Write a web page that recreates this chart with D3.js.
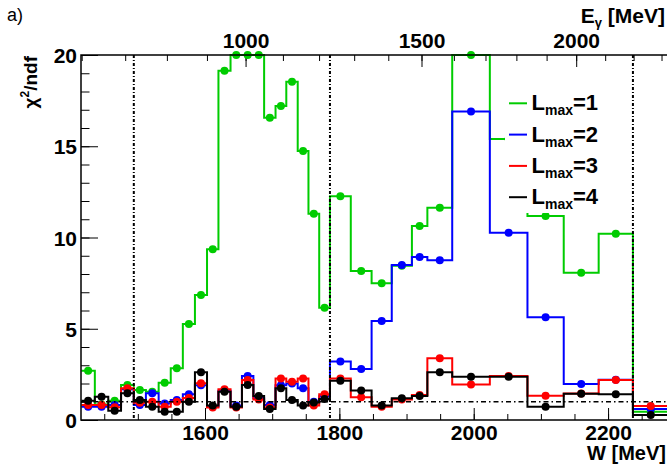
<!DOCTYPE html>
<html>
<head>
<meta charset="utf-8">
<script src="https://cdn.jsdelivr.net/npm/d3@7"></script>
<style>
  body { margin: 0; background: #fff; }
  svg { display: block; font-family: "Liberation Sans", Arial, Helvetica, sans-serif; }
</style>
</head>
<body>
<svg id="chart" width="667" height="471"></svg>
<script>
// bin edges in W [MeV] (33 bins)
const binEdges = [1416, 1436, 1456, 1475, 1494, 1512, 1531, 1549, 1567, 1585,
  1603, 1620, 1638, 1655, 1672, 1688, 1705, 1721, 1738, 1754, 1770, 1786,
  1817, 1848, 1878, 1908, 1931, 1968, 2024, 2080, 2134, 2186, 2237, 2290]

// chi2/ndf per bin for each fit
const lmax1 = [2.7, 0.85, 1.05, 1.92, 1.64, 1.55, 2.04, 2.83, 5.26, 6.85,
  9.35, 19.14, 20, 20, 20, 16.56, 17.2, 18.54, 14.74, 11.3, 6.15,
  12.26, 8.16, 7.49, 8.45, 10.63, 11.63, 20, 15.4, 11.18, 8.07, 10.21, 0.45]
const lmax2 = [0.73, 0.73, 0.82, 1.68, 0.82, 1.46, 0.91, 1.1, 1.41, 1.9,
  0.73, 1.6, 0.79, 2.41, 1.2, 0.82, 1.9, 2.0, 1.74, 1.0, 1.3,
  3.2, 2.8, 5.42, 8.49, 8.93, 8.75, 16.9, 10.26, 5.63, 1.97, 2.2, 0.6]
const lmax3 = [0.82, 0.82, 0.7, 1.74, 0.95, 1.0, 0.73, 1.0, 1.2, 2.01,
  0.68, 1.68, 0.68, 2.19, 1.13, 0.68, 2.28, 2.1, 2.28, 0.79, 1.41,
  2.28, 1.24, 0.73, 1.13, 1.37, 3.38, 1.95, 2.41, 1.33, 1.45, 2.19, 0.77]
const lmax4 = [1.06, 1.28, 0.51, 1.46, 1.1, 0.73, 0.45, 0.45, 1.0, 2.61,
  0.79, 1.55, 0.73, 1.92, 1.32, 0.6, 1.74, 1.1, 0.79, 0.96, 1.15,
  2.15, 1.61, 0.79, 1.19, 1.32, 2.61, 2.37, 2.37, 0.73, 1.44, 1.41, 0.27]

const legendLabels = ['1', '2', '3', '4']
const seriesColors = ['#00cc00', '#0000ff', '#ff0000', '#000000']

// axis ticks
const wTicks = [1600, 1800, 2000, 2200]
const yTicks = [0, 5, 10, 15, 20]
const egTicks = [1000, 1500, 2000]
// vertical marker lines (W) and reference level
const markerW = [1494, 1786, 2237]
const refLevel = 1

const mp = 938.27
const eToW = e => Math.sqrt(mp * mp + 2 * mp * e)

const svg = d3.select('#chart')
const x = d3.scaleLinear().domain([1415.4, 2290.7]).range([81, 669])
const y = d3.scaleLinear().domain([0, 20]).range([420, 55])

const fontAxis = g => g.selectAll('text')
  .attr('font-size', 21).attr('font-weight', 'bold').attr('fill', '#000')
  .attr('font-family', '"Liberation Sans", Arial, sans-serif')

// bottom axis
svg.append('g').attr('transform', 'translate(0,420)')
  .call(d3.axisBottom(x).tickValues(d3.range(1450, 2290, 50)).tickSize(-6).tickFormat(''))
  .call(g => g.select('.domain').remove())
svg.append('g').attr('transform', 'translate(0,420)')
  .call(d3.axisBottom(x).tickValues(wTicks).tickSize(-12).tickPadding(5).tickFormat(d3.format('d')))
  .call(g => g.select('.domain').remove())
  .call(fontAxis)

// left axis
svg.append('g').attr('transform', 'translate(81,0)')
  .call(d3.axisLeft(y).tickValues(d3.range(0, 21, 1)).tickSize(-8.5).tickFormat(''))
  .call(g => g.select('.domain').remove())
svg.append('g').attr('transform', 'translate(81,0)')
  .call(d3.axisLeft(y).tickValues(yTicks).tickSize(-17).tickPadding(4).tickFormat(d3.format('d')))
  .call(g => g.select('.domain').remove())
  .call(fontAxis)
  .call(g => g.selectAll('text').attr('dy', '0.36em'))

// top axis in photon energy
svg.append('g').attr('transform', 'translate(0,55)')
  .call(d3.axisTop(x).tickValues(d3.range(600, 2400, 100).map(eToW)).tickSize(-6).tickFormat(''))
  .call(g => g.select('.domain').remove())
svg.append('g').attr('transform', 'translate(0,55)')
  .call(d3.axisTop(x).tickValues(egTicks.map(eToW)).tickSize(-12).tickPadding(7)
    .tickFormat((d, i) => egTicks[i]))
  .call(g => g.select('.domain').remove())
  .call(fontAxis)

// histograms
const series = [lmax1, lmax2, lmax3, lmax4]
const line = d3.line().x(d => x(d[0])).y(d => y(d[1])).curve(d3.curveStepAfter)
series.forEach((vals, k) => {
  const pts = vals.map((v, i) => [binEdges[i], v])
  pts.push([binEdges[binEdges.length - 1], vals[vals.length - 1]])
  svg.append('path').attr('d', line(pts))
    .attr('fill', 'none').attr('stroke', seriesColors[k]).attr('stroke-width', 2)
  svg.append('g').selectAll('circle').data(vals).join('circle')
    .attr('cx', (v, i) => x((binEdges[i] + binEdges[i + 1]) / 2))
    .attr('cy', v => y(v))
    .attr('r', 4)
    .attr('fill', seriesColors[k])
})

// dashed markers
svg.append('g').selectAll('line').data(markerW).join('line')
  .attr('x1', d => x(d)).attr('x2', d => x(d))
  .attr('y1', y(20)).attr('y2', y(0))
  .attr('stroke', '#000').attr('stroke-width', 2).attr('stroke-dasharray', '3,2,1,2')
svg.append('line')
  .attr('x1', 81).attr('x2', 669).attr('y1', y(refLevel)).attr('y2', y(refLevel))
  .attr('stroke', '#000').attr('stroke-width', 1.5).attr('stroke-dasharray', '5,3,1.5,3')

// frame
svg.append('rect').attr('x', 81).attr('y', 55).attr('width', 590).attr('height', 365)
  .attr('fill', 'none').attr('stroke', '#000').attr('stroke-width', 1.5)

// legend
const leg = svg.append('g')
leg.append('rect').attr('x', 505).attr('y', 84).attr('width', 120).attr('height', 129).attr('fill', '#fff')
legendLabels.forEach((lab, k) => {
  const ly = 103.3 + k * 31.3
  leg.append('line').attr('x1', 509).attr('x2', 527).attr('y1', ly).attr('y2', ly)
    .attr('stroke', seriesColors[k]).attr('stroke-width', 2)
  const t = leg.append('text').attr('x', 531.5).attr('y', ly + 7)
    .attr('font-size', 22).attr('font-weight', 'bold')
  t.append('tspan').text('L')
  t.append('tspan').attr('font-size', 14).attr('dy', 5).text('max')
  t.append('tspan').attr('dy', -5).text('=' + lab)
})

// titles
const tx = svg.append('text').attr('x', 665).attr('y', 23).attr('text-anchor', 'end')
  .attr('font-size', 21).attr('font-weight', 'bold')
tx.append('tspan').text('E')
tx.append('tspan').attr('font-size', 13).attr('dy', 4).text('γ')
tx.append('tspan').attr('dy', -4).text(' [MeV]')

svg.append('text').attr('x', 666).attr('y', 460).attr('text-anchor', 'end')
  .attr('font-size', 20).attr('font-weight', 'bold').text('W [MeV]')

const ty = svg.append('text').attr('transform', 'translate(37,56) rotate(-90)')
  .attr('text-anchor', 'end').attr('font-size', 19).attr('font-weight', 'bold')
ty.append('tspan').text('χ')
ty.append('tspan').attr('font-size', 12).attr('dy', -8).text('2')
ty.append('tspan').attr('dy', 8).text('/ndf')

svg.append('text').attr('x', 7).attr('y', 21).attr('font-size', 18).text('a)')
</script>
</body>
</html>
